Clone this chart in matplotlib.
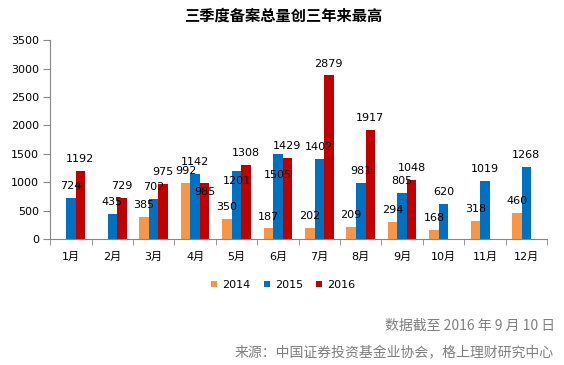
import numpy as np
import matplotlib.pyplot as plt

plt.rcParams['font.family'] = ['DejaVu Sans', 'Noto Sans CJK SC']

months = ['1月', '2月', '3月', '4月', '5月', '6月', '7月', '8月', '9月', '10月', '11月', '12月']
years = ['2014', '2015', '2016']
v2014 = [None, None, 385, 992, 350, 187, 202, 209, 294, 168, 318, 460]
v2015 = [724, 435, 702, 1142, 1201, 1505, 1402, 981, 805, 620, 1019, 1268]
v2016 = [1192, 729, 975, 985, 1308, 1429, 2879, 1917, 1048, None, None, None]
colors = ['#F79646', '#0070C0', '#C00000']

# a few labels sit lower in the original (moved by hand there)
label_shift = {(1, 4): -16, (1, 5): -24, (2, 3): -15}

fig = plt.figure(figsize=(5.64, 3.65), dpi=100)
ax = fig.add_axes([0.089, 0.345, 0.881, 0.545])

x = np.arange(len(months))
w = 0.23
for i, (vals, yr, c) in enumerate(zip([v2014, v2015, v2016], years, colors)):
    for j, v in enumerate(vals):
        if v is None:
            continue
        xx = x[j] + (i - 1) * w
        ax.bar(xx, v, width=w, color=c, label=yr if j == 3 else None)
        dy = 5 + label_shift.get((i, j), 0)
        ax.annotate(str(v), (xx, v), xytext=(0, dy), textcoords='offset points',
                    ha='center', va='bottom', fontsize=8, color='black')

ax.set_xlim(-0.5, 11.5)
ax.set_ylim(0, 3500)
ax.set_yticks(range(0, 3501, 500))
ax.set_xticks(x)
ax.set_xticklabels(months)
ax.set_xticks(np.arange(-0.5, 12, 1), minor=True)
ax.tick_params(axis='x', which='major', length=0, pad=9, labelsize=8)
ax.tick_params(axis='x', which='minor', length=4, color='#868686')
ax.tick_params(axis='y', length=5, color='#868686', labelsize=8, pad=3)
for s in ['top', 'right']:
    ax.spines[s].set_visible(False)
for s in ['left', 'bottom']:
    ax.spines[s].set_color('#868686')

fig.text(0.503, 0.958, '三季度备案总量创三年来最高', ha='center', va='center',
         fontsize=11, fontweight='bold', family=['Noto Sans CJK SC'])

ax.legend(loc='center', bbox_to_anchor=(0.502, 0.219), bbox_transform=fig.transFigure,
          ncol=3, frameon=False, fontsize=8, handlelength=0.55, handleheight=0.55,
          columnspacing=1.2, handletextpad=0.45)

fig.text(0.984, 0.108, '数据截至 2016 年 9 月 10 日', ha='right', va='center',
         fontsize=10, color='#7f7f7f', family=['Noto Sans CJK SC'])
fig.text(0.982, 0.033, '来源：中国证券投资基金业协会，格上理财研究中心', ha='right', va='center',
         fontsize=10, color='#7f7f7f', family=['Noto Sans CJK SC'])

fig.savefig('out.png', dpi=100)
